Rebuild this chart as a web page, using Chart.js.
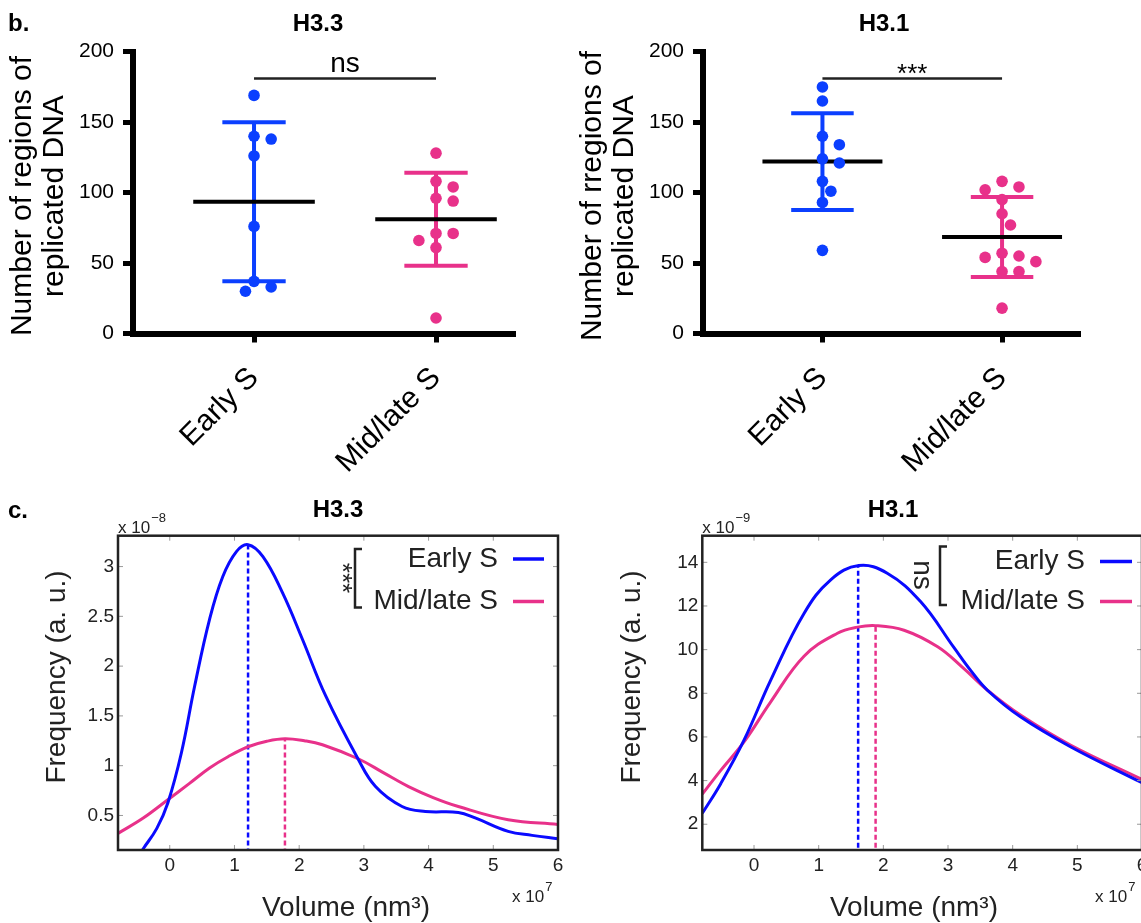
<!DOCTYPE html>
<html lang="en">
<head>
<meta charset="UTF-8">
<title>H3.3 / H3.1 replicated DNA</title>
<script src="https://cdn.jsdelivr.net/npm/chart.js@4.4.1/dist/chart.umd.min.js"></script>
<style>
  html, body { margin: 0; padding: 0; background: #fff; overflow: hidden; }
  .page { position: relative; width: 1141px; height: 923px; overflow: hidden; }
  .panel { position: absolute; }
</style>
</head>
<body>
<div class="page">
  <!-- b. dot plots -->
  <div class="panel" style="left:0;top:0"><canvas id="dotH33" width="570" height="480"></canvas></div>
  <div class="panel" style="left:570px;top:0"><canvas id="dotH31" width="571" height="480"></canvas></div>
  <!-- c. volume distributions -->
  <div class="panel" style="left:0;top:480px"><canvas id="volH33" width="570" height="443"></canvas></div>
  <div class="panel" style="left:570px;top:480px"><canvas id="volH31" width="600" height="443"></canvas></div>
</div>

<script>
// ---- data ----
const groups = ['Early S', 'Mid/late S'];

// b. number of regions of replicated DNA
const h33Early = [169, 140, 138, 126, 76, 37, 33, 30];
const h33Mid = [128, 108, 104, 96, 94, 71, 71, 66, 61, 11];
const h33Mean = [93.5, 81];
const h33Sd = [56.5, 33];

const h31Early = [175, 165, 140, 134, 124, 121, 108, 101, 93, 59];
const h31Mid = [108, 104, 102, 95, 85, 77, 57, 55, 54, 51, 44, 44, 18];
const h31Mean = [122, 68.5];
const h31Sd = [34.4, 28.4];

const sigLevel = 181;
const sigB = ['ns', '***'];

// c. frequency vs volume (x in units of 1e7 nm^3)
const volH33EarlyX = [-0.6, -0.41, -0.2, -0.03, 0.18, 0.385, 0.615, 0.82, 1.03, 1.21, 1.44, 1.74, 2.05, 2.41, 2.9, 3.18, 3.59, 3.95, 4.46, 4.72, 5.23, 5.6, 6.0];
const volH33EarlyY = [-0.02, 0.166, 0.37, 0.625, 1.13, 1.8, 2.47, 2.9, 3.15, 3.22, 3.1, 2.74, 2.27, 1.7, 1.08, 0.79, 0.59, 0.54, 0.53, 0.475, 0.34, 0.3, 0.265];
const volH33MidX = [-0.8, -0.41, -0.03, 0.3, 0.615, 0.9, 1.21, 1.5, 1.78, 2.08, 2.36, 2.92, 3.3, 3.69, 4.07, 4.46, 5.23, 6.0];
const volH33MidY = [0.32, 0.474, 0.658, 0.82, 0.977, 1.09, 1.19, 1.245, 1.27, 1.25, 1.21, 1.067, 0.93, 0.79, 0.68, 0.59, 0.457, 0.41];
const peakH33X = [1.21, 1.78];
const peakH33Y = [3.22, 1.27];

const volH31EarlyX = [-0.8, -0.515, -0.155, 0.258, 0.773, 1.186, 1.62, 2.06, 2.575, 3.09, 3.35, 3.61, 4.12, 4.9, 6.0];
const volH31EarlyY = [2.5, 3.86, 5.85, 8.6, 11.66, 13.2, 13.85, 13.5, 12.2, 10.1, 9.05, 8.14, 6.92, 5.54, 3.9];
const volH31MidX = [-0.8, -0.515, -0.155, 0.258, 0.773, 1.29, 1.6, 1.88, 2.32, 2.84, 3.22, 3.61, 4.12, 4.9, 6.0];
const volH31MidY = [3.38, 4.47, 5.77, 7.61, 9.7, 10.75, 11.03, 11.1, 10.89, 10.13, 9.2, 8.14, 7.0, 5.62, 4.05];
const peakH31X = [1.61, 1.88];
const peakH31Y = [13.85, 11.1];

const sigC = ['***', 'ns'];

// ---- styling ----
const FONT = '"Liberation Sans", Arial, Helvetica, sans-serif';
const BLUE = '#0b3fff';
const PINK = '#e8318a';
const LINE_BLUE = '#0a0aff';
Chart.defaults.font.family = FONT;
Chart.defaults.animation = false;

function text(ctx, s, x, y, o = {}) {
  ctx.save();
  ctx.font = (o.weight || 'normal') + ' ' + (o.size || 20) + 'px ' + FONT;
  ctx.fillStyle = o.color || '#000';
  ctx.textAlign = o.align || 'center';
  ctx.textBaseline = o.base || 'middle';
  ctx.translate(x, y);
  if (o.rot) ctx.rotate(o.rot);
  ctx.fillText(s, 0, 0);
  ctx.restore();
}

// "x 10" with a raised exponent, x = left edge, y = baseline
function power(ctx, x, y, exp) {
  ctx.save();
  ctx.fillStyle = '#222';
  ctx.textAlign = 'left';
  ctx.textBaseline = 'alphabetic';
  ctx.font = '17px ' + FONT;
  ctx.fillText('x 10', x, y);
  const w = ctx.measureText('x 10').width;
  ctx.font = '13px ' + FONT;
  ctx.fillText(exp, x + w + 1, y - 11);
  ctx.restore();
}

// simple beeswarm so overlapping dots spread sideways
const PX_PER_VAL = 1.41, PX_PER_CAT = 180.5, STEP = 8.5, MIN_D = 12;
function swarm(values, center) {
  const placed = [], out = [];
  const order = values.map((v, i) => i).sort((a, b) => values[b] - values[a]);
  order.forEach(i => {
    const py = values[i] * PX_PER_VAL;
    let off = 0;
    for (const k of [0, 1, -1, 2, -2, 3, -3, 4, -4]) {
      const px = k * STEP;
      if (placed.every(p => Math.hypot(p.px - px, p.py - py) >= MIN_D)) { off = px; break; }
    }
    placed.push({ px: off, py });
    out[i] = { x: center + off / PX_PER_CAT, y: values[i] };
  });
  return out;
}

function seg(points, color, width, dash) {
  return {
    data: points.map(p => ({ x: p[0], y: p[1] })),
    showLine: true, pointRadius: 0, borderColor: color, borderWidth: width,
    borderDash: dash || [], borderCapStyle: 'butt', fill: false
  };
}

function dotPlot(id, cfg) {
  const MEAN_W = 0.334, CAP_W = 0.174;
  const datasets = [
    { data: swarm(cfg.early, 1), pointRadius: 5.8, backgroundColor: BLUE, borderWidth: 0 },
    { data: swarm(cfg.mid, 2), pointRadius: 5.8, backgroundColor: PINK, borderWidth: 0 }
  ];
  [0, 1].forEach(i => {
    const c = i + 1, col = i ? PINK : BLUE, m = cfg.mean[i], s = cfg.sd[i];
    datasets.push(seg([[c - MEAN_W, m], [c + MEAN_W, m]], '#000', 4));
    datasets.push(seg([[c, m - s], [c, m + s]], col, 4));
    datasets.push(seg([[c - CAP_W, m + s], [c + CAP_W, m + s]], col, 4));
    datasets.push(seg([[c - CAP_W, m - s], [c + CAP_W, m - s]], col, 4));
  });
  datasets.push(seg([[1, sigLevel], [2, sigLevel]], '#222', 2.5));

  new Chart(document.getElementById(id), {
    type: 'scatter',
    data: { datasets },
    options: {
      responsive: false,
      events: [],
      layout: { padding: { left: 0, top: 51.7, right: cfg.padRight, bottom: 0 } },
      plugins: { legend: { display: false }, tooltip: { enabled: false } },
      scales: {
        x: {
          type: 'linear', min: 0.335, max: 2.434,
          afterBuildTicks: s => { s.ticks = [{ value: 1 }, { value: 2 }]; },
          afterFit: s => { s.height = 146.5; },
          ticks: {
            callback: v => groups[v - 1], font: { size: 30 }, color: '#000',
            minRotation: 45, maxRotation: 45, autoSkip: false, padding: 18
          },
          grid: { drawOnChartArea: false, tickLength: 9, tickWidth: 5, tickColor: '#000' },
          border: { width: 6, color: '#000' }
        },
        y: {
          min: 0, max: 200,
          afterBuildTicks: s => { s.ticks = [0, 50, 100, 150, 200].map(v => ({ value: v })); },
          afterFit: s => { s.width = 133; },
          ticks: { font: { size: 21 }, color: '#000', padding: 9 },
          grid: { drawOnChartArea: false, tickLength: 10, tickWidth: 5, tickColor: '#000' },
          border: { width: 6, color: '#000' }
        }
      }
    },
    plugins: [{
      id: 'decor',
      afterDraw(chart) {
        const ctx = chart.ctx, xs = chart.scales.x, ys = chart.scales.y;
        if (cfg.letter) text(ctx, cfg.letter, 8, 31, { size: 24, weight: 'bold', align: 'left', base: 'alphabetic' });
        text(ctx, cfg.title, cfg.titleX, 31, { size: 24, weight: 'bold', base: 'alphabetic' });
        text(ctx, cfg.yTitle[0], 23, 196, { size: 30, rot: -Math.PI / 2 });
        text(ctx, cfg.yTitle[1], 55, 196, { size: 30, rot: -Math.PI / 2 });
        const sx = xs.getPixelForValue(1.5), sy = ys.getPixelForValue(sigLevel);
        if (cfg.sig === 'ns') text(ctx, 'ns', sx, sy - 6, { size: 28, base: 'alphabetic' });
        else text(ctx, cfg.sig, sx, sy + 4, { size: 26, base: 'alphabetic' });
      }
    }]
  });
}

function volPlot(id, cfg) {
  const line = (xs, ys, color) => ({
    data: xs.map((x, i) => ({ x, y: ys[i] })),
    showLine: true, pointRadius: 0, borderColor: color, borderWidth: 3,
    tension: 0.4, cubicInterpolationMode: 'default', fill: false
  });
  const datasets = [
    line(cfg.earlyX, cfg.earlyY, LINE_BLUE),
    line(cfg.midX, cfg.midY, PINK),
    seg([[cfg.peakX[0], cfg.yMin - 1], [cfg.peakX[0], cfg.peakY[0]]], LINE_BLUE, 2.5, [5, 3]),
    seg([[cfg.peakX[1], cfg.yMin - 1], [cfg.peakX[1], cfg.peakY[1]]], PINK, 2.5, [5, 3])
  ];
  const L = cfg.legend;

  new Chart(document.getElementById(id), {
    type: 'scatter',
    data: { datasets },
    options: {
      responsive: false,
      events: [],
      layout: { padding: { left: 0, top: 55.7, right: cfg.padRight, bottom: 0 } },
      plugins: { legend: { display: false }, tooltip: { enabled: false } },
      scales: {
        x: {
          type: 'linear', min: -0.8, max: 6,
          afterBuildTicks: s => { s.ticks = [0, 1, 2, 3, 4, 5, 6].map(v => ({ value: v })); },
          afterFit: s => { s.height = 73; },
          ticks: { callback: v => String(v), font: { size: 19 }, color: '#222', padding: 4, maxRotation: 0 },
          grid: { display: false, drawTicks: false },
          border: { display: false }
        },
        y: {
          min: cfg.yMin, max: cfg.yMax,
          afterBuildTicks: s => { s.ticks = cfg.yTicks.map(v => ({ value: v })); },
          afterFit: s => { s.width = cfg.axisLeft; },
          ticks: { callback: v => String(v), font: { size: 19 }, color: '#222', padding: 4 },
          grid: { display: false, drawTicks: false },
          border: { display: false }
        }
      }
    },
    plugins: [{
      id: 'decor',
      afterDraw(chart) {
        const ctx = chart.ctx, a = chart.chartArea, xs = chart.scales.x, ys = chart.scales.y;
        // inner ticks on all four sides
        ctx.save();
        ctx.strokeStyle = '#9a9a9a';
        ctx.lineWidth = 1;
        ctx.beginPath();
        xs.ticks.forEach(t => {
          const px = xs.getPixelForValue(t.value);
          ctx.moveTo(px, a.bottom); ctx.lineTo(px, a.bottom - 5);
          ctx.moveTo(px, a.top); ctx.lineTo(px, a.top + 5);
        });
        ys.ticks.forEach(t => {
          const py = ys.getPixelForValue(t.value);
          ctx.moveTo(a.left, py); ctx.lineTo(a.left + 5, py);
          ctx.moveTo(a.right, py); ctx.lineTo(a.right - 5, py);
        });
        ctx.stroke();
        // frame
        ctx.strokeStyle = '#222';
        ctx.lineWidth = 2.5;
        ctx.strokeRect(a.left, a.top, a.right - a.left, a.bottom - a.top);
        ctx.restore();

        if (cfg.letter) text(ctx, cfg.letter, 8, 38, { size: 24, weight: 'bold', align: 'left', base: 'alphabetic' });
        text(ctx, cfg.title, cfg.titleX, 37, { size: 24, weight: 'bold', base: 'alphabetic' });
        power(ctx, a.left, 52.5, cfg.yExp);
        power(ctx, cfg.xExpX, 421.5, '7');
        text(ctx, 'Volume (nm\u00B3)', cfg.xTitleX, 428, { size: 28, color: '#222' });
        text(ctx, 'Frequency (a. u.)', cfg.yTitleX, 197, { size: 28, color: '#222', rot: -Math.PI / 2 });

        // legend with bracket and significance
        text(ctx, groups[0], L.textRight, L.y1, { size: 28, color: '#222', align: 'right' });
        text(ctx, groups[1], L.textRight, L.y2, { size: 28, color: '#222', align: 'right' });
        ctx.save();
        ctx.lineWidth = 3.5;
        ctx.strokeStyle = LINE_BLUE;
        ctx.beginPath(); ctx.moveTo(L.lineX0, L.y1); ctx.lineTo(L.lineX1, L.y1); ctx.stroke();
        ctx.strokeStyle = PINK;
        ctx.beginPath(); ctx.moveTo(L.lineX0, L.y2); ctx.lineTo(L.lineX1, L.y2); ctx.stroke();
        ctx.strokeStyle = '#222';
        ctx.lineWidth = 2.5;
        ctx.beginPath();
        ctx.moveTo(L.brX + 7, L.brTop); ctx.lineTo(L.brX, L.brTop);
        ctx.lineTo(L.brX, L.brBottom); ctx.lineTo(L.brX + 7, L.brBottom);
        ctx.stroke();
        ctx.restore();
        if (cfg.sig === 'ns') text(ctx, 'ns', L.sigX, L.sigY, { size: 28, color: '#222', rot: Math.PI / 2 });
        else text(ctx, cfg.sig, L.sigX, L.sigY, { size: 26, color: '#222', rot: Math.PI / 2 });
      }
    }]
  });
}

dotPlot('dotH33', {
  early: h33Early, mid: h33Mid, mean: h33Mean, sd: h33Sd, sig: sigB[0],
  title: 'H3.3', titleX: 318, letter: 'b.', padRight: 55,
  yTitle: ['Number of regions of', 'replicated DNA']
});
dotPlot('dotH31', {
  early: h31Early, mid: h31Mid, mean: h31Mean, sd: h31Sd, sig: sigB[1],
  title: 'H3.1', titleX: 314, padRight: 61,
  yTitle: ['Number of rregions of', 'replicated DNA']
});

volPlot('volH33', {
  earlyX: volH33EarlyX, earlyY: volH33EarlyY, midX: volH33MidX, midY: volH33MidY,
  peakX: peakH33X, peakY: peakH33Y, sig: sigC[0],
  yMin: 0.153, yMax: 3.31, yTicks: [0.5, 1, 1.5, 2, 2.5, 3], yExp: '\u22128',
  axisLeft: 118, padRight: 12, title: 'H3.3', titleX: 338, letter: 'c.',
  xExpX: 512, xTitleX: 346, yTitleX: 57,
  legend: { textRight: 498, lineX0: 513, lineX1: 544, y1: 79, y2: 121.5,
            brX: 355, brTop: 69, brBottom: 127.5, sigX: 341, sigY: 98 }
});
volPlot('volH31', {
  earlyX: volH31EarlyX, earlyY: volH31EarlyY, midX: volH31MidX, midY: volH31MidY,
  peakX: peakH31X, peakY: peakH31Y, sig: sigC[1],
  yMin: 0.82, yMax: 15.22, yTicks: [2, 4, 6, 8, 10, 12, 14], yExp: '\u22129',
  axisLeft: 132.3, padRight: 28, title: 'H3.1', titleX: 323,
  xExpX: 525, xTitleX: 344, yTitleX: 62,
  legend: { textRight: 515, lineX0: 530, lineX1: 562, y1: 81.5, y2: 121.5,
            brX: 370, brTop: 66.5, brBottom: 125, sigX: 352, sigY: 95 }
});
</script>
</body>
</html>
